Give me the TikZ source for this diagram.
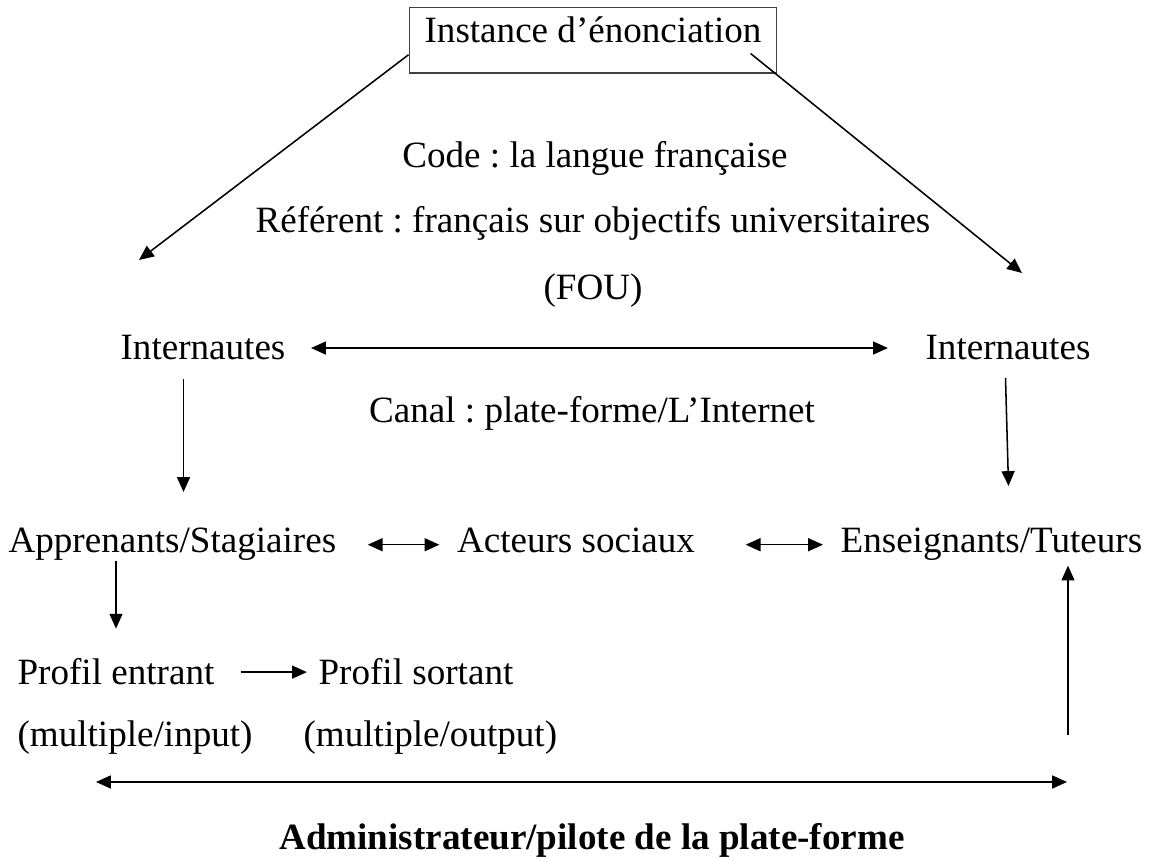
\documentclass[tikz,border=0pt]{standalone}
\usepackage{fontspec}
\setmainfont{Liberation Serif}
\usetikzlibrary{arrows.meta,calc}
\frenchspacing

\begin{document}
\begin{tikzpicture}[x=0.3235pt, y=-0.3235pt,
    txt/.style={inner sep=0pt, font=\fontsize{12}{14}\selectfont},
    arr/.style={line width=0.5pt, -{Triangle[length=4.8pt, width=4.2pt]}},
    darr/.style={line width=0.5pt, {Triangle[length=4.8pt, width=4.2pt]}-{Triangle[length=4.8pt, width=4.2pt]}}]
  \useasboundingbox (0,0) rectangle (1150,860);
  % Source of the utterance, in its frame.
  \node[txt, draw=black!75, line width=0.4pt, inner xsep=5pt,
        text height=11.6pt, text depth=9.7pt, anchor=base] (inst) at (593,43) {Instance d’énonciation};
  % Code and referent, in the middle.
  \node[txt, anchor=base] (code) at (595,168) {Code : la langue française};
  \node[txt, anchor=base] (refr) at (593,233) {Référent : français sur objectifs universitaires};
  \node[txt, anchor=base] (fou)  at (593,300) {(FOU)};
  % The two internautes and the channel.
  \node[txt, anchor=base west] (intL)  at (120,360) {Internautes};
  \node[txt, anchor=base west] (intR)  at (925,360) {Internautes};
  \node[txt, anchor=base]      (canal) at (592,423) {Canal : plate-forme/L’Internet};
  % Social actors.
  \node[txt, anchor=base west] (appr) at (8,553)   {Apprenants/Stagiaires};
  \node[txt, anchor=base]      (act)  at (576,553) {Acteurs sociaux};
  \node[txt, anchor=base west] (ens)  at (840,553) {Enseignants/Tuteurs};
  % Profiles of the learners.
  \node[txt, anchor=base west] (pin)  at (17,685)  {Profil entrant};
  \node[txt, anchor=base west] (pout) at (318,685) {Profil sortant};
  \node[txt, anchor=base west] (min)  at (17,747)  {(multiple/input)};
  \node[txt, anchor=base west] (mout) at (303,747) {(multiple/output)};
  % Platform administrator.
  \node[txt, anchor=base, font=\fontsize{12}{14}\selectfont\bfseries] (adm) at (592,850) {Administrateur/pilote de la plate-forme};

  % Free ends of the arrows.
  \coordinate (tl) at (139,260);
  \coordinate (tr) at (1022,273);
  \coordinate (bl) at (96,782);
  \coordinate (br) at (1067,782);
  \coordinate (up) at (1068,735);

  \draw[arr] ([yshift=6.1pt]inst.south west) -- (tl);
  \draw[arr] ([xshift=-8.7pt, yshift=6.5pt]inst.south east) -- (tr);
  \draw[darr, shorten <=8.1pt, shorten >=12pt] (intL.east) -- (intR.west);
  \draw[arr] ($(intL.south)+(-19.5,18)$) -- ($(intL.south)+(-19.5,131)$);
  \draw[arr] ($(intR.south)+(-2.5,17)$) -- ($(intR.south)+(0.5,125)$);
  \draw[darr, shorten <=10pt, shorten >=5.5pt] (appr.east) -- (appr.east -| act.west);
  \draw[darr, shorten <=16.2pt, shorten >=5.5pt] (ens.west -| act.east) -- (ens.west);
  \draw[arr] ($(appr.south west)+(108,-1)$) -- ($(appr.south west)+(108,67)$);
  \draw[arr, shorten <=8.4pt, shorten >=3.6pt] (pin.east) -- (pin.east -| pout.west);
  \draw[darr] (bl) -- (br);
  \draw[arr, shorten >=1.3pt] (up) -- (up |- ens.south);
\end{tikzpicture}
\end{document}
